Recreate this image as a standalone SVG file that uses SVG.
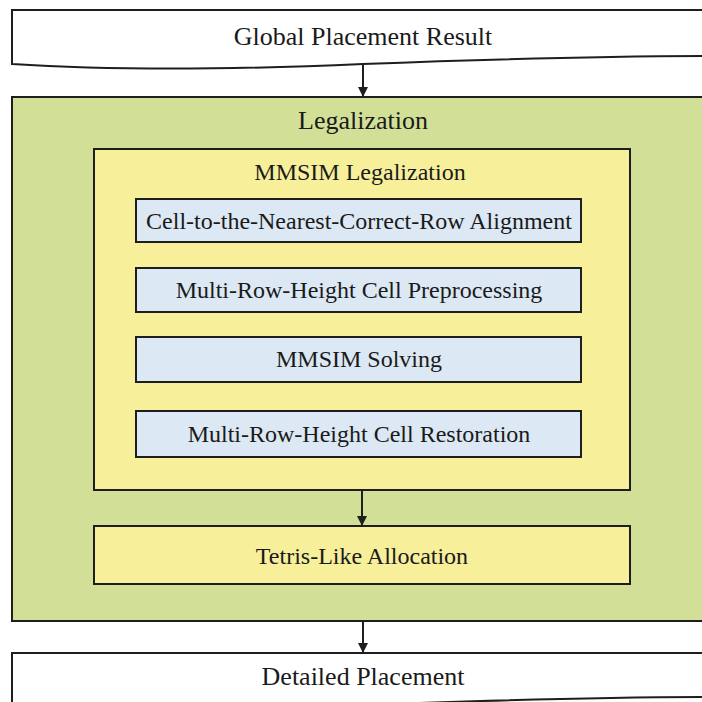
<svg xmlns="http://www.w3.org/2000/svg" width="702" height="702" viewBox="0 0 702 702">
  <style>
    .box { stroke: #1e1e1e; stroke-width: 2; }
    .doc { fill: #ffffff; }
    .outer { fill: #d2e097; }
    .stage { fill: #f7ef9a; }
    .step { fill: #dce8f4; }
    .t { font-family: "Liberation Serif", "Times New Roman", serif; fill: #1a1a1a; text-anchor: middle; }
    .big { font-size: 26px; }
    .mid { font-size: 24px; }
    .conn { stroke: #1e1e1e; stroke-width: 2; fill: none; }
  </style>
  <defs>
    <marker id="arrow" viewBox="0 0 10 10" refX="9" refY="5" markerWidth="5" markerHeight="5" orient="auto" markerUnits="strokeWidth">
      <path d="M0,0 L10,5 L0,10 Z" fill="#1e1e1e"/>
    </marker>
  </defs>
  <rect width="702" height="702" fill="#ffffff"/>

  <g id="global-placement">
    <path class="box doc" d="M12,10 H720 V56 C600,56 470,60 363,64 C250,69 120,71 12,64 Z"/>
    <text class="t big" x="363" y="45">Global Placement Result</text>
  </g>

  <g id="legalization">
    <rect class="box outer" x="12" y="97" width="710" height="524"/>
    <text class="t big" x="363" y="129">Legalization</text>
  </g>

  <g id="mmsim-legalization">
    <rect class="box stage" x="94" y="149" width="536" height="341"/>
    <text class="t mid" x="360" y="180">MMSIM Legalization</text>
  </g>

  <g id="row-alignment">
    <rect class="box step" x="136" y="199" width="445" height="43"/>
    <text class="t mid" x="359" y="229">Cell-to-the-Nearest-Correct-Row Alignment</text>
  </g>

  <g id="preprocessing">
    <rect class="box step" x="136" y="268" width="445" height="44"/>
    <text class="t mid" x="359" y="298">Multi-Row-Height Cell Preprocessing</text>
  </g>

  <g id="mmsim-solving">
    <rect class="box step" x="136" y="337" width="445" height="45"/>
    <text class="t mid" x="359" y="367">MMSIM Solving</text>
  </g>

  <g id="restoration">
    <rect class="box step" x="136" y="411" width="445" height="46"/>
    <text class="t mid" x="359" y="442">Multi-Row-Height Cell Restoration</text>
  </g>

  <g id="tetris-allocation">
    <rect class="box stage" x="94" y="526" width="536" height="58"/>
    <text class="t mid" x="362" y="564">Tetris-Like Allocation</text>
  </g>

  <g id="detailed-placement">
    <path class="box doc" d="M12,653 H720 V697 C600,697 470,701 363,705 C250,710 120,712 12,705 Z"/>
    <text class="t big" x="363" y="685">Detailed Placement</text>
  </g>

  <g id="connectors">
    <line class="conn" x1="363" y1="65" x2="363" y2="96" marker-end="url(#arrow)"/>
    <line class="conn" x1="362" y1="490" x2="362" y2="525" marker-end="url(#arrow)"/>
    <line class="conn" x1="363" y1="621" x2="363" y2="652" marker-end="url(#arrow)"/>
  </g>
</svg>
